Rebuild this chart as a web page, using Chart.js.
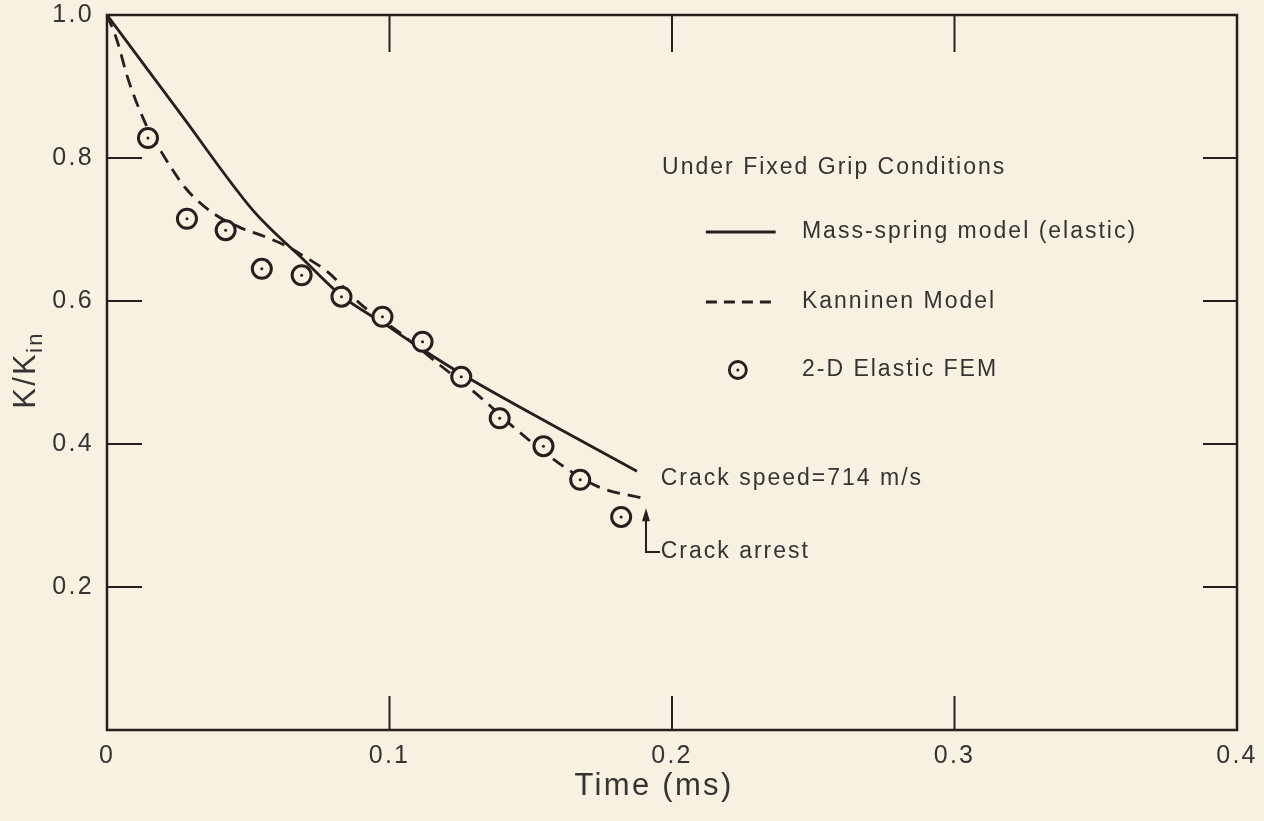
<!DOCTYPE html>
<html>
<head>
<meta charset="utf-8">
<title>K/Kin vs time</title>
<script src="https://cdn.jsdelivr.net/npm/chart.js@4.4.1/dist/chart.umd.min.js"></script>
<style>
  html, body { margin: 0; padding: 0; background: #f6f1e0; }
  canvas { display: block; }
</style>
</head>
<body>
<canvas id="chart" width="1264" height="821"></canvas>
<script>
// values
const massSpringT = [0, 0.026, 0.0516, 0.060, 0.0682, 0.0834, 0.099, 0.1106, 0.1272, 0.1565, 0.1876];
const massSpringK = [1.0, 0.862, 0.727, 0.693, 0.663, 0.606, 0.566, 0.535, 0.494, 0.429, 0.362];

const kanninenT = [0, 0.0035, 0.0075, 0.014, 0.019, 0.028, 0.0375, 0.047, 0.0565, 0.064, 0.07, 0.078, 0.09, 0.1035, 0.117, 0.132, 0.1435, 0.16, 0.174, 0.19];
const kanninenK = [1.0, 0.965, 0.91, 0.845, 0.81, 0.757, 0.723, 0.703, 0.689, 0.676, 0.662, 0.641, 0.595, 0.556, 0.513, 0.466, 0.425, 0.373, 0.34, 0.324];

const femT = [0.0145, 0.0283, 0.042, 0.0548, 0.0689, 0.083, 0.0975, 0.1117, 0.1254, 0.139, 0.1545, 0.1675, 0.182];
const femK = [0.828, 0.715, 0.699, 0.645, 0.636, 0.606, 0.578, 0.543, 0.494, 0.436, 0.397, 0.35, 0.298];

const xTickValues = [0, 0.1, 0.2, 0.3, 0.4];
const yTickValues = [0.2, 0.4, 0.6, 0.8, 1.0];

const seriesNames = ['Mass-spring model (elastic)', 'Kanninen Model', '2-D Elastic FEM'];
const legendTitle = 'Under Fixed Grip Conditions';
const speedNote = 'Crack speed=714 m/s';
const arrestNote = 'Crack arrest';

const ink = '#2a1d1d';
const textInk = '#363432';
const paper = '#f6f1e0';
const fontFamily = '"Liberation Sans", Arial, sans-serif';
const kanninenDash = [13, 8];

function toPoints(xs, ys) {
  return xs.map((x, i) => ({ x: x, y: ys[i] }));
}

const notes = {
  id: 'notes',
  beforeDraw(chart) {
    const ctx = chart.ctx;
    ctx.save();
    ctx.fillStyle = paper;
    ctx.fillRect(0, 0, chart.width, chart.height);
    ctx.restore();
    ctx.letterSpacing = '2.3px';
  },
  afterDraw(chart) {
    const ctx = chart.ctx;
    const a = chart.chartArea;
    const x = chart.scales.x;
    const y = chart.scales.y;
    ctx.save();
    ctx.letterSpacing = '2.3px';

    // frame + inward ticks
    ctx.strokeStyle = ink;
    ctx.lineWidth = 2.5;
    ctx.strokeRect(a.left, a.top, a.right - a.left, a.bottom - a.top);
    ctx.lineWidth = 2;
    ctx.beginPath();
    xTickValues.slice(1, -1).forEach((v) => {
      const px = x.getPixelForValue(v);
      ctx.moveTo(px, a.bottom);
      ctx.lineTo(px, a.bottom - 34);
      ctx.moveTo(px, a.top);
      ctx.lineTo(px, a.top + 37);
    });
    yTickValues.slice(0, -1).forEach((v) => {
      const py = y.getPixelForValue(v);
      ctx.moveTo(a.left, py);
      ctx.lineTo(a.left + 35, py);
      ctx.moveTo(a.right, py);
      ctx.lineTo(a.right - 34, py);
    });
    ctx.stroke();

    // axis titles
    ctx.fillStyle = textInk;
    ctx.font = '31px ' + fontFamily;
    ctx.textAlign = 'center';
    ctx.textBaseline = 'middle';
    ctx.fillText('Time (ms)', (a.left + a.right) / 2 - 18, 786);

    ctx.save();
    ctx.translate(0, (a.top + a.bottom) / 2 - 3);
    ctx.rotate(-Math.PI / 2);
    ctx.textAlign = 'left';
    ctx.textBaseline = 'alphabetic';
    ctx.font = '31px ' + fontFamily;
    const w1 = ctx.measureText('K/K').width;
    ctx.font = '22px ' + fontFamily;
    const w2 = ctx.measureText('in').width;
    const start = -(w1 + w2) / 2;
    ctx.font = '31px ' + fontFamily;
    ctx.fillText('K/K', start, 35);
    ctx.font = '22px ' + fontFamily;
    ctx.fillText('in', start + w1 - 1, 42);
    ctx.restore();

    // legend block
    ctx.letterSpacing = '2px';
    ctx.font = '23px ' + fontFamily;
    ctx.textAlign = 'left';
    ctx.textBaseline = 'middle';
    ctx.fillText(legendTitle, x.getPixelForValue(0.1965), y.getPixelForValue(0.787));

    const rowY = [0.6965, 0.5986, 0.5035].map((v) => y.getPixelForValue(v));
    const sx0 = x.getPixelForValue(0.212);
    const sx1 = x.getPixelForValue(0.2367);
    const tx = x.getPixelForValue(0.246);

    ctx.strokeStyle = ink;
    ctx.lineWidth = 3;
    ctx.beginPath();
    ctx.moveTo(sx0, rowY[0]);
    ctx.lineTo(sx1, rowY[0]);
    ctx.stroke();

    ctx.setLineDash([11, 7]);
    ctx.beginPath();
    ctx.moveTo(sx0, rowY[1]);
    ctx.lineTo(sx1, rowY[1]);
    ctx.stroke();
    ctx.setLineDash([]);

    const cx = x.getPixelForValue(0.2233);
    ctx.lineWidth = 2.8;
    ctx.beginPath();
    ctx.arc(cx, rowY[2], 8.5, 0, Math.PI * 2);
    ctx.stroke();
    ctx.fillStyle = ink;
    ctx.beginPath();
    ctx.arc(cx, rowY[2], 1.5, 0, Math.PI * 2);
    ctx.fill();

    ctx.fillStyle = textInk;
    seriesNames.forEach((name, i) => ctx.fillText(name, tx, rowY[i]));

    // crack notes
    const nx = x.getPixelForValue(0.196);
    ctx.fillText(speedNote, nx, y.getPixelForValue(0.351));
    const ay = y.getPixelForValue(0.249);
    ctx.fillText(arrestNote, nx, ay);

    const ax = x.getPixelForValue(0.1908);
    const tip = y.getPixelForValue(0.31);
    ctx.strokeStyle = ink;
    ctx.lineWidth = 2;
    ctx.beginPath();
    ctx.moveTo(ax + 14, ay);
    ctx.lineTo(ax, ay);
    ctx.lineTo(ax, tip + 8);
    ctx.stroke();
    ctx.fillStyle = ink;
    ctx.beginPath();
    ctx.moveTo(ax, tip);
    ctx.lineTo(ax - 4, tip + 13);
    ctx.lineTo(ax + 4, tip + 13);
    ctx.closePath();
    ctx.fill();

    ctx.restore();
  },
};

const ctx = document.getElementById('chart');
new Chart(ctx, {
  type: 'scatter',
  data: {
    datasets: [
      {
        label: seriesNames[0],
        data: toPoints(massSpringT, massSpringK),
        showLine: true,
        borderColor: ink,
        borderWidth: 2.8,
        pointRadius: 0,
        cubicInterpolationMode: 'monotone',
        order: 3,
      },
      {
        label: seriesNames[1],
        data: toPoints(kanninenT, kanninenK),
        showLine: true,
        borderColor: ink,
        borderWidth: 2.8,
        borderDash: kanninenDash,
        pointRadius: 0,
        cubicInterpolationMode: 'monotone',
        order: 2,
      },
      {
        label: seriesNames[2],
        data: toPoints(femT, femK),
        showLine: false,
        pointRadius: 9.5,
        pointBorderWidth: 3,
        pointBorderColor: ink,
        pointBackgroundColor: paper,
        order: 1,
      },
      {
        label: 'centre dots',
        data: toPoints(femT, femK),
        showLine: false,
        pointRadius: 1.5,
        pointBorderWidth: 0,
        pointBackgroundColor: ink,
        order: 0,
      },
    ],
  },
  options: {
    responsive: false,
    animation: false,
    devicePixelRatio: 1,
    layout: { padding: { left: 0, top: 15, right: 27, bottom: 0 } },
    plugins: {
      legend: { display: false },
      tooltip: { enabled: false },
    },
    scales: {
      x: {
        type: 'linear',
        min: 0,
        max: 0.4,
        afterBuildTicks: (s) => { s.ticks = xTickValues.map((v) => ({ value: v })); },
        afterFit: (s) => { s.height = 91; s.paddingLeft = 0; s.paddingRight = 0; },
        grid: { display: false, drawTicks: false },
        border: { display: false },
        ticks: {
          autoSkip: false,
          maxRotation: 0,
          padding: 11,
          color: textInk,
          font: { family: fontFamily, size: 25 },
          callback: (v) => (v === 0 ? '0' : v.toFixed(1)),
        },
      },
      y: {
        type: 'linear',
        min: 0,
        max: 1.0,
        afterBuildTicks: (s) => { s.ticks = yTickValues.map((v) => ({ value: v })); },
        afterFit: (s) => { s.width = 107; s.paddingTop = 0; s.paddingBottom = 0; },
        grid: { display: false, drawTicks: false },
        border: { display: false },
        ticks: {
          autoSkip: false,
          padding: 13,
          color: textInk,
          font: { family: fontFamily, size: 25 },
          callback: (v) => v.toFixed(1),
        },
      },
    },
  },
  plugins: [notes],
});
</script>
</body>
</html>
